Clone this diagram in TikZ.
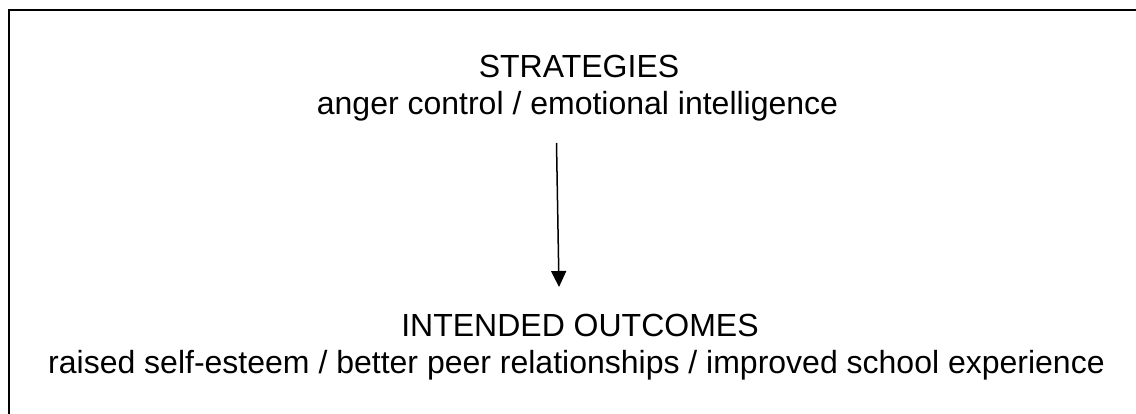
\documentclass[tikz,border=0pt]{standalone}
\usepackage{fontspec}
\setmainfont{Liberation Sans}
\usetikzlibrary{arrows.meta}
\begin{document}
\begin{tikzpicture}[x=1pt,y=-1pt,
  lbl/.style={anchor=base,inner sep=0pt,font=\fontsize{32}{38}\selectfont},
  conn/.style={line width=1.5pt,-{Triangle[width=15pt,length=16pt]}},
  frame/.style={line width=2.6pt}]
\useasboundingbox (0,0) rectangle (1136,414);
\draw[frame] (9,500) -- (9,10) -- (1200,10);
\node[lbl] (t1) at (579,78) {STRATEGIES};
\node[lbl] (t2) at (577.5,115) {anger control / emotional intelligence};
\node[lbl] (b1) at (580,336) {INTENDED OUTCOMES};
\node[lbl] (b2) at (576.5,373) {raised self-esteem / better peer relationships / improved school experience};
\coordinate (s) at (556.5,143);
\coordinate (e) at (559,287);
\draw[conn] (s) -- (e);
\end{tikzpicture}
\end{document}
